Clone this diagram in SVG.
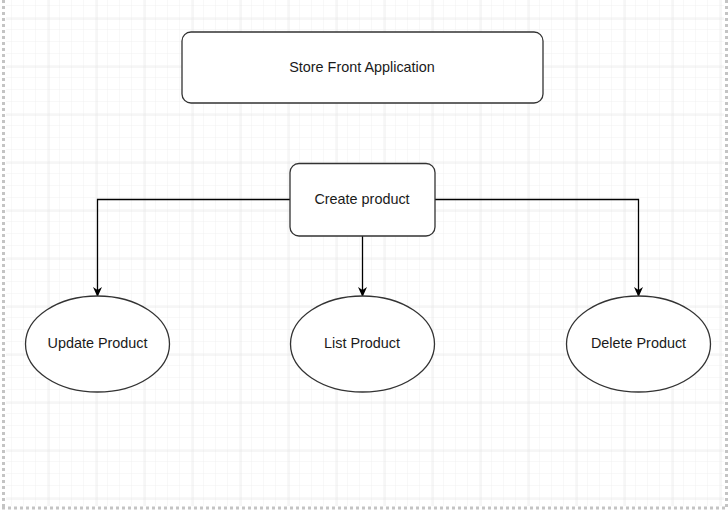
<svg xmlns="http://www.w3.org/2000/svg" width="728" height="517" viewBox="0 0 728 517">
<defs>
<pattern id="minor" width="12" height="12" patternUnits="userSpaceOnUse" x="0" y="6">
<path d="M12 0V12M0 12H12" fill="none" stroke="#f0f0f0" stroke-width="1"/>
</pattern>
<pattern id="major" width="48" height="48" patternUnits="userSpaceOnUse" x="0.5" y="18.5">
<path d="M0 0V48M0 0H48" fill="none" stroke="#dcdcdc" stroke-width="1"/>
</pattern>
<marker id="arr" viewBox="0 0 10 10" refX="9" refY="5" markerWidth="10" markerHeight="10" markerUnits="userSpaceOnUse" orient="auto">
<path d="M0 0.5L10 5L0 9.5L3 5Z" fill="#000"/>
</marker>
</defs>
<style>
.box{fill:#fff;stroke:#333;stroke-width:1.3}
.lbl{font-family:"Liberation Sans",Arial,sans-serif;font-size:14.4px;fill:#1a1a1a;text-anchor:middle;dominant-baseline:central}
.edge{fill:none;stroke:#000;stroke-width:1.3;marker-end:url(#arr)}
</style>
<rect width="728" height="517" fill="#fff"/>
<rect x="6" y="0" width="718" height="506" fill="url(#minor)"/>
<rect x="6" y="0" width="718" height="506" fill="url(#major)"/>
<g id="border" stroke="#c4c4c4" stroke-width="3" stroke-dasharray="3 3" fill="none">
<line x1="3.5" y1="0" x2="3.5" y2="510"/>
<line x1="726.5" y1="0" x2="726.5" y2="510"/>
<line x1="2" y1="508" x2="728" y2="508"/>
</g>
<g id="connectors">
<path class="edge" d="M290 199.5H97.5V296"/>
<path class="edge" d="M362.5 236V296"/>
<path class="edge" d="M435 199.5H638.5V296"/>
</g>
<g id="store-front">
<rect class="box" x="182" y="32" width="361" height="71" rx="9"/>
<text class="lbl" x="362" y="66.5">Store Front Application</text>
</g>
<g id="create-product">
<rect class="box" x="290" y="163.5" width="145" height="72.5" rx="9"/>
<text class="lbl" x="362" y="198.5">Create product</text>
</g>
<g id="update-product">
<ellipse class="box" cx="97.5" cy="344" rx="72" ry="48"/>
<text class="lbl" x="97.5" y="342.5">Update Product</text>
</g>
<g id="list-product">
<ellipse class="box" cx="362.5" cy="344" rx="72" ry="48"/>
<text class="lbl" x="362" y="342.5">List Product</text>
</g>
<g id="delete-product">
<ellipse class="box" cx="638.5" cy="344" rx="72" ry="48"/>
<text class="lbl" x="638.5" y="342.5">Delete Product</text>
</g>
</svg>
